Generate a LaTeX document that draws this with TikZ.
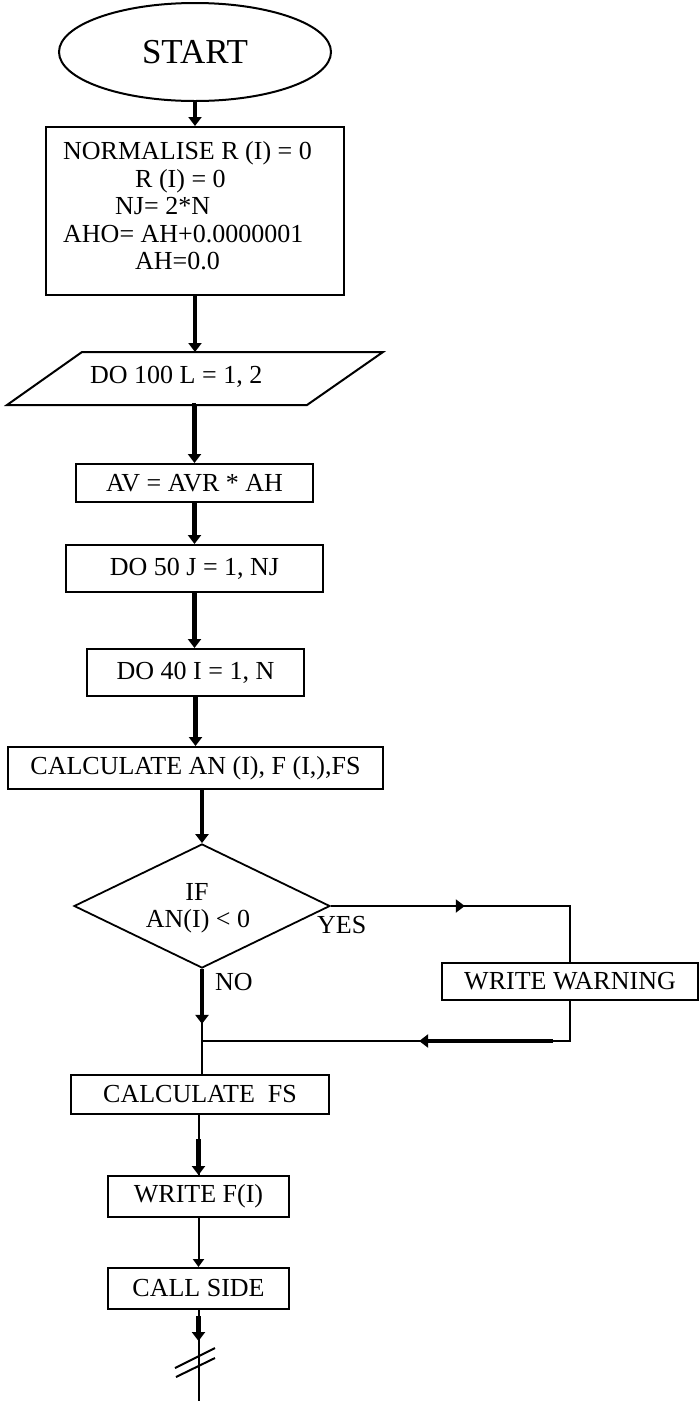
\documentclass[tikz,border=0pt]{standalone}
\usepackage{fontspec}
\setmainfont{Liberation Serif}
\usetikzlibrary{shapes.geometric,arrows.meta,calc}

\begin{document}
\begin{tikzpicture}[x=1pt,y=-1pt,
  txt/.style={font=\fontsize{26}{28}\selectfont, inner sep=0pt},
  box/.style={draw, line width=2pt, rectangle, inner sep=0pt, txt},
  flow/.style={line width=2pt},
  heavy/.style={line width=4.5pt},
  tip/.style={-{Triangle[length=9pt,width=13pt]}},
  tipsmall/.style={-{Triangle[length=8pt,width=11pt]}},
]
\useasboundingbox (0,0) rectangle (699,1401);

% terminal
\node[ellipse, draw, line width=2pt, minimum width=272pt, minimum height=98pt,
      inner sep=0pt, font=\fontsize{35}{36}\selectfont] (start) at (195,52) {START};

% initialisation block
\node[box, minimum width=298pt, minimum height=168pt] (norm) at (195,211) {};
\node[txt, anchor=base west] (n1) at (63,159) {NORMALISE R (I) = 0};
\node[txt, anchor=base west] (n2) at (135,187) {R (I) = 0};
\node[txt, anchor=base west] (n3) at (115,214) {NJ= 2*N};
\node[txt, anchor=base west] (n4) at (63,242) {AHO= AH+0.0000001};
\node[txt, anchor=base west] (n5) at (135,269) {AH=0.0};

% outer loop (parallelogram)
\coordinate (pa) at (82,352);
\coordinate (pb) at (383,352);
\coordinate (pc) at (307,405);
\coordinate (pd) at (7,405);
\draw[line width=2pt, line join=miter] (pa) -- (pb) -- (pc) -- (pd) -- cycle;
\coordinate (do100top) at (195,352);
\coordinate (do100bot) at (195,405);
\node[txt, anchor=base west] (do100t) at (90,383) {DO 100 L = 1, 2};

\node[box, minimum width=237pt, minimum height=38pt] (av)   at (194.5,483)   {AV = AVR * AH};
\node[box, minimum width=257pt, minimum height=47pt] (do50) at (194.5,568.5) {DO 50 J = 1, NJ};
\node[box, minimum width=217pt, minimum height=47pt] (do40) at (195.5,672.5) {DO 40 I = 1, N};
\node[box, minimum width=375pt, minimum height=42pt] (calc) at (195.5,768)   {CALCULATE AN (I), F (I,),FS};

% decision
\node[diamond, draw, line width=1.8pt, minimum width=256pt, minimum height=124pt,
      inner sep=0pt] (dia) at (202,906) {};
\node[txt, anchor=base] (if1) at (197,900) {IF};
\node[txt, anchor=base] (if2) at (198,927) {AN(I) < 0};
\node[txt, anchor=base west] (yes) at (317,933) {YES};
\node[txt, anchor=base west] (no)  at (215,990) {NO};

\node[box, minimum width=256pt, minimum height=37pt] (ww)  at (570,981.5)  {WRITE WARNING};
\node[box, minimum width=258pt, minimum height=39pt] (cfs) at (200,1094.5) {CALCULATE~~FS};
\node[box, minimum width=181pt, minimum height=41pt] (wf)  at (198.5,1196.5) {WRITE F(I)};
\node[box, minimum width=181pt, minimum height=41pt] (cs)  at (198.5,1288.5) {CALL SIDE};

% main flow
\draw[heavy, tip] (start.south) -- (norm.north);
\draw[heavy, tip] (norm.south) -- (do100top);
\draw[heavy, tip] (do100bot) -- (do100bot -| av.north) -- (av.north);
\draw[heavy, tip] (av.south) -- (av.south |- do50.north);
\draw[heavy, tip] (do50.south) -- (do50.south |- do40.north);
\draw[heavy, tip] (do40.south) -- (do40.south |- calc.north);
\draw[heavy, tip] (dia.north |- calc.south) -- (dia.north);

% YES branch
\coordinate (yesturn) at (ww.north |- dia.east);
\draw[flow] (dia.east) -- (yesturn) -- (ww.north);
\draw[flow, tip] (dia.east) -- ($(dia.east)!0.56!(yesturn)$);

% NO branch and merge
\coordinate (merge) at (202,1041);
\coordinate (back) at (ww.south |- merge);
\draw[flow] (dia.south) -- (dia.south |- cfs.north);
\draw[heavy, tip] (dia.south) -- ($(dia.south)+(0,55)$);
\draw[flow] (ww.south) -- (back) -- (merge);
\draw[line width=3.5pt, tip] ($(merge)!0.954!(back)$) -- ($(merge)!0.59!(back)$);

% lower chain
\draw[flow] (wf.north |- cfs.south) -- (wf.north);
\draw[heavy, tip] ($(wf.north)+(0,-36)$) -- (wf.north);
\draw[flow, tipsmall] (wf.south) -- (cs.north);
\coordinate (tail) at (198.5,1401);
\draw[flow] (cs.south) -- (tail);
\draw[heavy, tip] ($(cs.south)+(0,6)$) -- ($(cs.south)+(0,31)$);

% break marks on the continuing line
\draw[flow] (175,1368) -- (215,1348);
\draw[flow] (176,1377) -- (215,1358);
\end{tikzpicture}
\end{document}
